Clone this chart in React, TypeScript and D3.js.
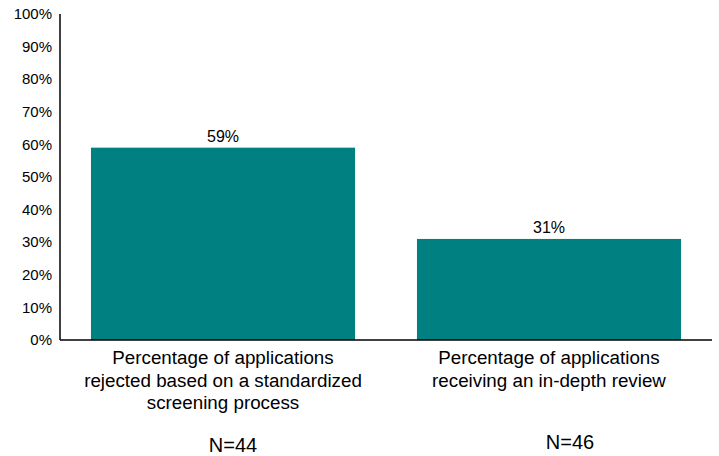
import { useEffect, useRef } from 'react';
import * as d3 from 'd3';

const categories = [
  ['Percentage of applications', 'rejected based on a standardized', 'screening process'],
  ['Percentage of applications', 'receiving an in-depth review'],
];
const values = [59, 31];
const sampleSizes = ['N=44', 'N=46'];
const yTicks = [0, 10, 20, 30, 40, 50, 60, 70, 80, 90, 100];

const W = 719;
const H = 456;
const FONT = 'Arial, "Liberation Sans", Helvetica, sans-serif';

export default function App() {
  const svgRef = useRef<SVGSVGElement>(null);

  useEffect(() => {
    if (!svgRef.current) return;
    const svg = d3.select(svgRef.current);
    svg.selectAll('*').remove();

    const left = 60;
    const right = 712;
    const top = 14;
    const bottom = 340;

    const x = d3
      .scaleBand<number>()
      .domain(values.map((_, i) => i))
      .range([left, right])
      .paddingInner(0.19)
      .paddingOuter(0.095);
    const y = d3.scaleLinear().domain([0, 100]).range([bottom, top]);

    const g = svg.append('g').attr('font-family', FONT).attr('fill', '#000');

    // bars
    g.selectAll('rect.bar')
      .data(values)
      .join('rect')
      .attr('class', 'bar')
      .attr('x', (_, i) => x(i)!)
      .attr('y', (d) => y(d))
      .attr('width', x.bandwidth())
      .attr('height', (d) => y(0) - y(d))
      .attr('fill', '#008080');

    // value labels
    g.selectAll('text.val')
      .data(values)
      .join('text')
      .attr('class', 'val')
      .attr('x', (_, i) => x(i)! + x.bandwidth() / 2)
      .attr('y', (d) => y(d) - 6)
      .attr('text-anchor', 'middle')
      .attr('font-size', 16)
      .text((d) => `${d}%`);

    // y tick labels
    g.selectAll('text.tick')
      .data(yTicks)
      .join('text')
      .attr('class', 'tick')
      .attr('x', 52)
      .attr('y', (d) => y(d))
      .attr('dy', '0.35em')
      .attr('text-anchor', 'end')
      .attr('font-size', 15)
      .text((d) => `${d}%`);

    // axes
    g.append('line')
      .attr('x1', left)
      .attr('x2', left)
      .attr('y1', top)
      .attr('y2', bottom)
      .attr('stroke', '#000')
      .attr('stroke-width', 1.5);
    g.append('line')
      .attr('x1', left)
      .attr('x2', right)
      .attr('y1', bottom)
      .attr('y2', bottom)
      .attr('stroke', '#000')
      .attr('stroke-width', 1.5);

    // category labels
    categories.forEach((lines, i) => {
      const cx = x(i)! + x.bandwidth() / 2;
      const t = g
        .append('text')
        .attr('text-anchor', 'middle')
        .attr('font-size', 18.8);
      lines.forEach((line, j) => {
        t.append('tspan')
          .attr('x', cx)
          .attr('y', 364 + j * 22.5)
          .text(line);
      });
    });

    // sample sizes
    const nY = [452, 449];
    const nX = [233, 570];
    sampleSizes.forEach((s, i) => {
      g.append('text')
        .attr('x', nX[i])
        .attr('y', nY[i])
        .attr('text-anchor', 'middle')
        .attr('font-size', 20)
        .text(s);
    });
  }, []);

  return (
    <svg
      ref={svgRef}
      width={W}
      height={H}
      style={{ position: 'absolute', left: 0, top: 0, background: '#fff' }}
    />
  );
}
